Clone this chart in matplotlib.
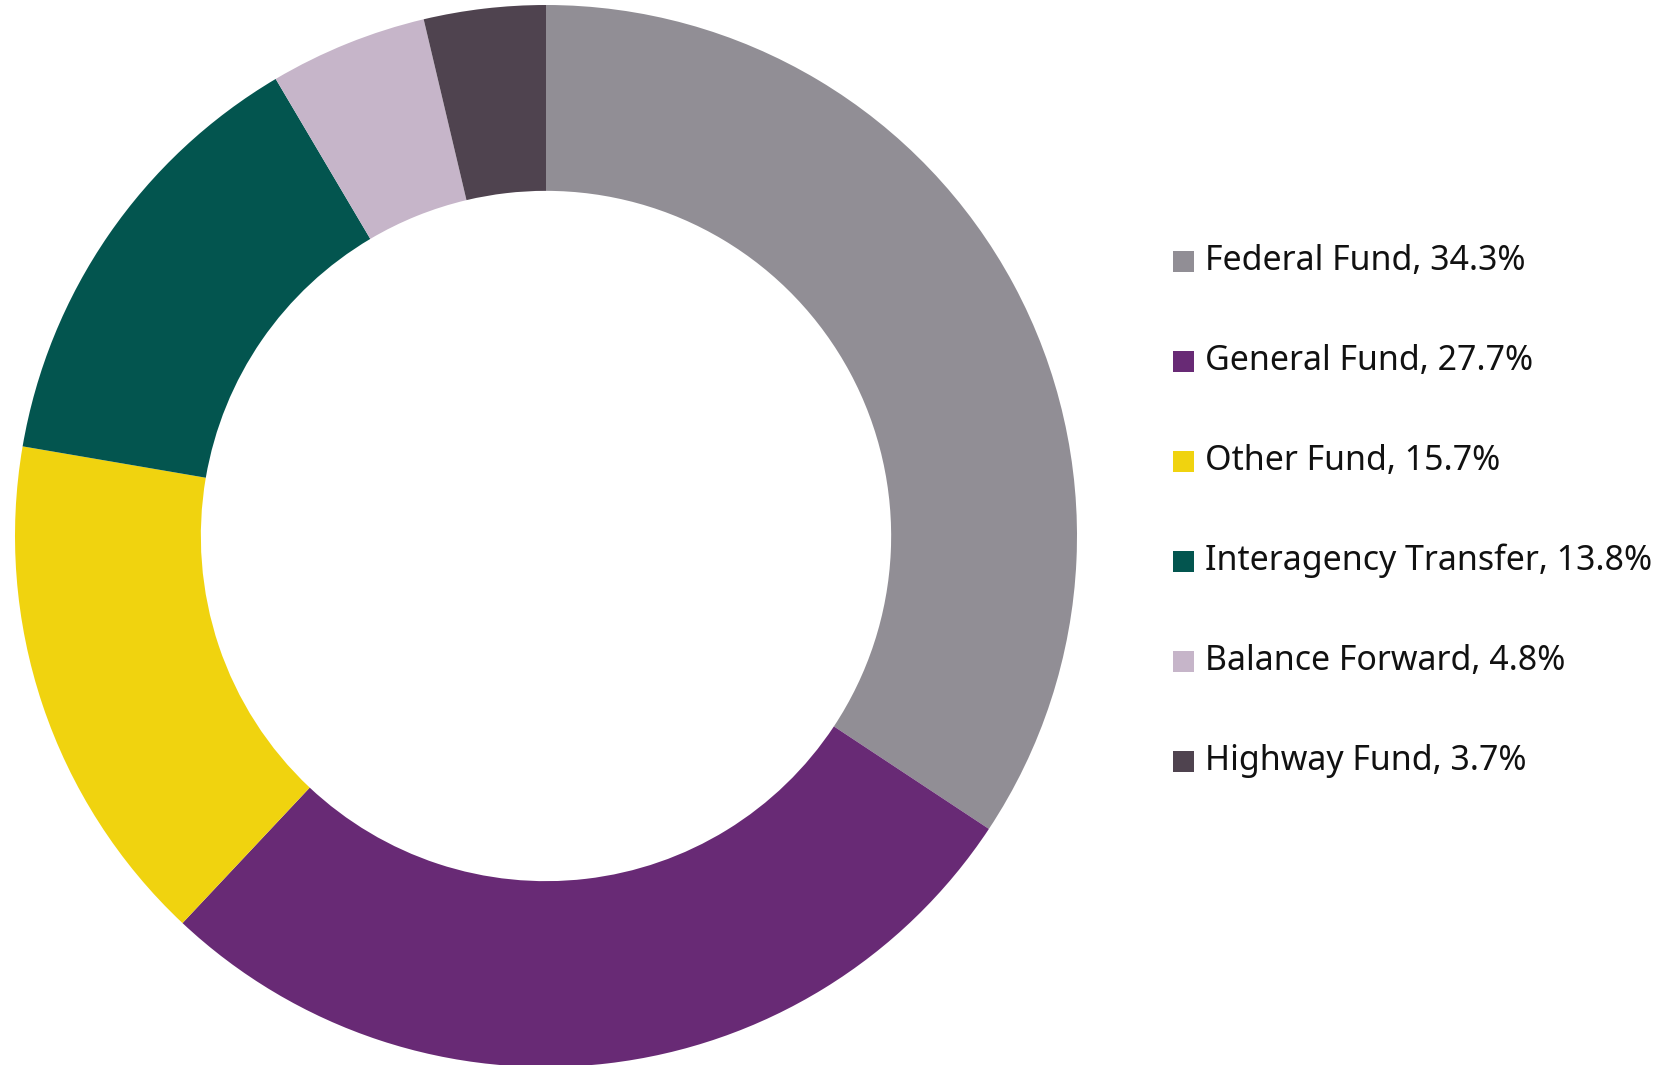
import matplotlib
matplotlib.use("Agg")
import matplotlib.pyplot as plt
from matplotlib.patches import Rectangle

categories = ["Federal Fund", "General Fund", "Other Fund", "Interagency Transfer",
              "Balance Forward", "Highway Fund"]
shares = [34.3, 27.7, 15.7, 13.8, 4.8, 3.7]
colors = ["#918E95", "#682A75", "#F0D30F", "#03554F", "#C6B5C9", "#4F434F"]

W, H = 1665, 1065
fig = plt.figure(figsize=(W / 100, H / 100), dpi=100)
fig.patch.set_facecolor("white")

cx, cy, R = 546, 536, 531
ax = fig.add_axes([(cx - R) / W, (H - cy - R) / H, 2 * R / W, 2 * R / H])
ax.pie(shares, colors=colors, startangle=90, counterclock=False, radius=1.0,
       wedgeprops=dict(width=0.35, linewidth=0))
ax.set_xlim(-1, 1)
ax.set_ylim(-1, 1)
ax.set_aspect("equal")
ax.axis("off")

font = ["Noto Sans", "DejaVu Sans"]
y0, dy = 261, 100
sq = 21
for i, (cat, v, c) in enumerate(zip(categories, shares, colors)):
    yc = y0 + i * dy
    fig.patches.append(Rectangle((1173 / W, (H - yc - sq / 2) / H), sq / W, sq / H,
                                 transform=fig.transFigure, facecolor=c, edgecolor="none"))
    fig.text(1205 / W, (H - yc) / H, f"{cat}, {v}%", fontsize=24.4, family=font,
             color="#111111", va="center", ha="left")

fig.savefig("out.png", dpi=100, facecolor="white")
